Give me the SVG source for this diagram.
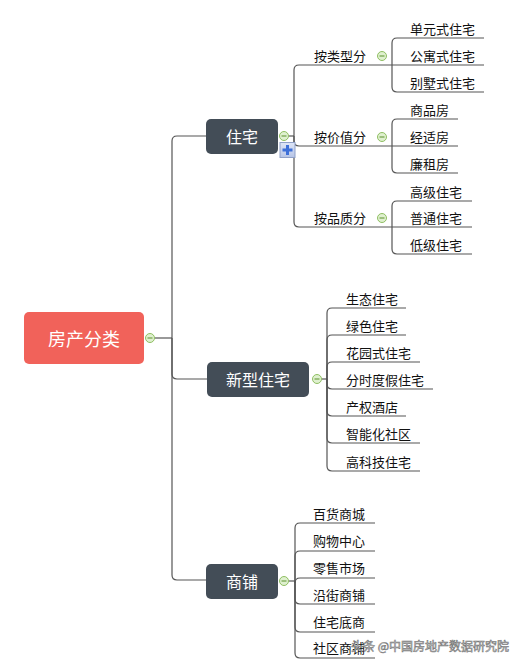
<svg xmlns="http://www.w3.org/2000/svg" width="514" height="671" viewBox="0 0 514 671">
<style>
.ln{fill:none;stroke:#555;stroke-width:1.2}
.lbl{font-family:"Noto Sans CJK SC","Noto Sans",sans-serif;font-size:13px;fill:#111;dominant-baseline:central}
.nt{font-family:"Noto Sans CJK SC","Noto Sans",sans-serif;font-size:16px;fill:#fff;text-anchor:middle;dominant-baseline:central}
.dark{fill:#434d57}
.col circle{fill:#dff0cf;stroke:#8fbf62;stroke-width:1}
.col line{stroke:#6f9f45;stroke-width:1.2}
.wm{font-family:"Noto Sans CJK SC","Noto Sans",sans-serif;font-size:12px;fill:#fff;stroke:#777;stroke-width:0.6;dominant-baseline:central}
</style>
<defs>
<g id="minus" class="col"><circle cx="0" cy="0" r="4.5"/><line x1="-2.5" y1="0" x2="2.5" y2="0"/></g>
<linearGradient id="pg" x1="0" y1="0" x2="0" y2="1"><stop offset="0" stop-color="#dfe6f7"/><stop offset="1" stop-color="#b6c4e6"/></linearGradient>
</defs>
<rect width="514" height="671" fill="#fff"/>
<g id="connectors">
<path class="ln" d="M154.5,338 H172"/>
<path class="ln" d="M172,338 V141 Q172,136 177,136 H206"/>
<path class="ln" d="M172,338 V374 Q172,379 177,379 H207"/>
<path class="ln" d="M172,338 V575 Q172,580 177,580 H206"/>
<path class="ln" d="M288.5,136 H294"/>
<path class="ln" d="M294,136 V70 Q294,65 299,65 H390"/>
<path class="ln" d="M294,136 V141 Q294,146 299,146 H390"/>
<path class="ln" d="M294,136 V222 Q294,227 299,227 H390"/>
<path class="ln" d="M390,65 H392"/>
<path class="ln" d="M392,65 V43 Q392,38 397,38 H484"/>
<path class="ln" d="M392,65 H484"/>
<path class="ln" d="M392,65 V87 Q392,92 397,92 H484"/>
<path class="ln" d="M390,146 H392"/>
<path class="ln" d="M392,146 V124 Q392,119 397,119 H458"/>
<path class="ln" d="M392,146 H458"/>
<path class="ln" d="M392,146 V168 Q392,173 397,173 H458"/>
<path class="ln" d="M390,227 H392"/>
<path class="ln" d="M392,227 V206 Q392,201 397,201 H472"/>
<path class="ln" d="M392,227 H472"/>
<path class="ln" d="M392,227 V249 Q392,254 397,254 H472"/>
<path class="ln" d="M321.5,379 H327"/>
<path class="ln" d="M327,379 V313 Q327,308 332,308 H406"/>
<path class="ln" d="M327,379 V340 Q327,335 332,335 H406"/>
<path class="ln" d="M327,379 V367 Q327,362 332,362 H420"/>
<path class="ln" d="M327,379 V384 Q327,389 332,389 H433"/>
<path class="ln" d="M327,379 V411 Q327,416 332,416 H406"/>
<path class="ln" d="M327,379 V438 Q327,443 332,443 H420"/>
<path class="ln" d="M327,379 V466 Q327,471 332,471 H420"/>
<path class="ln" d="M288.5,581 H295"/>
<path class="ln" d="M295,581 V528 Q295,523 300,523 H375"/>
<path class="ln" d="M295,581 V556 Q295,551 300,551 H375"/>
<path class="ln" d="M295,581 V583 Q295,578 300,578 H375"/>
<path class="ln" d="M295,581 V599 Q295,604 300,604 H375"/>
<path class="ln" d="M295,581 V627 Q295,632 300,632 H375"/>
<path class="ln" d="M295,581 V653 Q295,658 300,658 H375"/>
</g>
<g id="root">
<rect x="24" y="312" width="120" height="52" rx="5" fill="#f1625a"/>
<text class="nt" x="84" y="338" style="font-size:18px">房产分类</text>
<use href="#minus" x="150" y="338"/>
</g>
<g id="n-zhuzhai">
<rect class="dark" x="206" y="119" width="72" height="35" rx="5"/>
<text class="nt" x="242" y="136">住宅</text>
<use href="#minus" x="284" y="136"/>
<rect x="280" y="142.5" width="15" height="15" fill="url(#pg)" stroke="#8fa0c8" stroke-width="1"/>
<path d="M287.5,145 V155 M282.5,150 H292.5" stroke="#3d6fd8" stroke-width="3"/>
</g>
<g id="n-xinxing">
<rect class="dark" x="207" y="362" width="102" height="35" rx="5"/>
<text class="nt" x="258" y="379">新型住宅</text>
<use href="#minus" x="317" y="379"/>
</g>
<g id="n-shangpu">
<rect class="dark" x="206" y="564" width="72" height="35" rx="5"/>
<text class="nt" x="242" y="581">商铺</text>
<use href="#minus" x="284" y="581"/>
</g>
<g id="n-leixing"><text class="lbl" x="314" y="55">按类型分</text><use href="#minus" x="382" y="56"/></g>
<g id="n-jiazhi"><text class="lbl" x="314" y="136">按价值分</text><use href="#minus" x="382" y="137"/></g>
<g id="n-pinzhi"><text class="lbl" x="314" y="217">按品质分</text><use href="#minus" x="382" y="218"/></g>
<g id="n-danyuan"><text class="lbl" x="410" y="28">单元式住宅</text></g>
<g id="n-gongyu"><text class="lbl" x="410" y="55">公寓式住宅</text></g>
<g id="n-bieshu"><text class="lbl" x="410" y="82">别墅式住宅</text></g>
<g id="n-shangpin"><text class="lbl" x="410" y="109">商品房</text></g>
<g id="n-jingshi"><text class="lbl" x="410" y="136">经适房</text></g>
<g id="n-lianzu"><text class="lbl" x="410" y="163">廉租房</text></g>
<g id="n-gaoji"><text class="lbl" x="410" y="191">高级住宅</text></g>
<g id="n-putong"><text class="lbl" x="410" y="217">普通住宅</text></g>
<g id="n-diji"><text class="lbl" x="410" y="244">低级住宅</text></g>
<g id="n-shengtai"><text class="lbl" x="346" y="298">生态住宅</text></g>
<g id="n-lvse"><text class="lbl" x="346" y="325">绿色住宅</text></g>
<g id="n-huayuan"><text class="lbl" x="346" y="352">花园式住宅</text></g>
<g id="n-fenshi"><text class="lbl" x="346" y="379">分时度假住宅</text></g>
<g id="n-chanquan"><text class="lbl" x="346" y="406">产权酒店</text></g>
<g id="n-zhineng"><text class="lbl" x="346" y="433">智能化社区</text></g>
<g id="n-gaokeji"><text class="lbl" x="346" y="461">高科技住宅</text></g>
<g id="n-baihuo"><text class="lbl" x="313" y="513">百货商城</text></g>
<g id="n-gouwu"><text class="lbl" x="313" y="540">购物中心</text></g>
<g id="n-lingshou"><text class="lbl" x="313" y="567">零售市场</text></g>
<g id="n-yanjie"><text class="lbl" x="313" y="594">沿街商铺</text></g>
<g id="n-zhuzhaidi"><text class="lbl" x="313" y="621">住宅底商</text></g>
<g id="n-shequ"><text class="lbl" x="313" y="647">社区商铺</text></g>
<text class="wm" x="351" y="645">头条 @中国房地产数据研究院</text>
</svg>
